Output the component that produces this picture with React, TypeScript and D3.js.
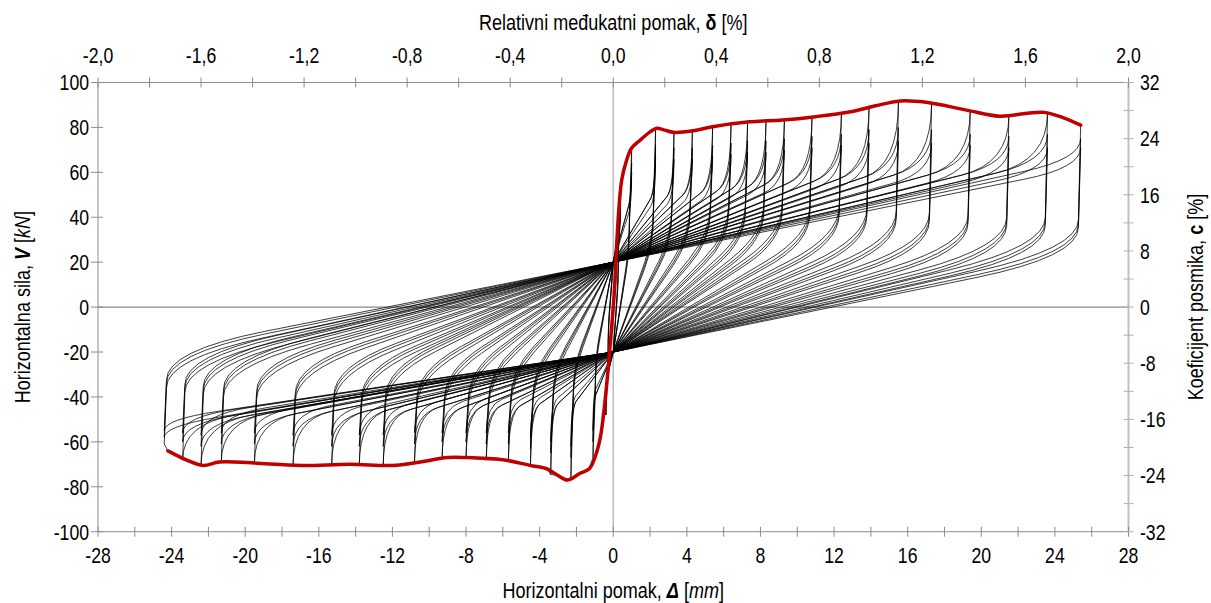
import React from "react";
import * as d3 from "d3";

// ---------------- data ----------------
const bottomTickLabels = [-28, -24, -20, -16, -12, -8, -4, 0, 4, 8, 12, 16, 20, 24, 28];
const leftTickLabels = [-100, -80, -60, -40, -20, 0, 20, 40, 60, 80, 100];
const rightTickLabels = [-32, -24, -16, -8, 0, 8, 16, 24, 32];
const topTickValues = [-2.0, -1.6, -1.2, -0.8, -0.4, 0.0, 0.4, 0.8, 1.2, 1.6, 2.0];
const topTickLabels = ["-2,0", "-1,6", "-1,2", "-0,8", "-0,4", "0,0", "0,4", "0,8", "1,2", "1,6", "2,0"];

// envelope (red)
const envPosD = [0, 0.1, 0.2, 0.46, 0.73, 1.0, 1.47, 2.0, 2.36, 2.8, 3.26, 4.35, 5.4, 7.4, 9.2, 11, 12.9, 14.2, 15.6, 17, 19.2, 21, 22.5, 23.4, 24.4, 25.4];
const envPosF = [0, 12, 30, 56.6, 65.5, 70.8, 74.4, 78, 79.6, 78.8, 77.8, 78.5, 80.3, 82.5, 83.3, 84.8, 87, 89.5, 91.8, 91.2, 87.7, 85, 86.3, 86.7, 84.5, 81];
const envNegD = [0, -0.1, -0.25, -0.45, -0.7, -1.0, -1.3, -1.8, -2.5, -3.0, -3.6, -4.5, -6, -8, -9, -10.5, -12, -14.3, -17, -19.7, -21.4, -22.3, -23.2, -24.2];
const envNegF = [0, -10, -25, -42, -58, -67, -72, -74, -77, -75, -72, -70.5, -68, -67, -67, -69, -70.5, -70, -70.5, -69.3, -69, -70.5, -68, -64];

// hysteresis loops: amplitudes and forces per cycle
const posD = [0.4, 1.0, 2.3, 3.3, 4.3, 5.4, 6.4, 7.3, 8.3, 9.3, 10.8, 12.4, 13.9, 15.5, 17.3, 19.4, 21.5, 23.6, 25.4];
const posPeak1 = [52, 70.8, 79.5, 77.8, 78.5, 80.3, 81.5, 82.4, 82.9, 83.3, 84.5, 86.5, 89.3, 91.8, 91, 87.5, 85.2, 86.6, 81];
const posPeak2 = [46, 64, 72, 71, 71, 72, 73, 74, 74, 75, 76, 77, 79, 80, 79, 77, 76, 77, 75];
const posPeak3 = [42, 60, 67, 66, 66, 67, 68, 69, 69, 70, 71, 72, 73, 74, 73, 72, 71, 71, 71];
const posReach2 = [38, 50, 52, 53, 54, 55, 56, 57, 58, 59, 60, 61, 62, 63, 64, 64, 64, 65, 66];
const posReach3 = [35, 46, 48, 49, 50, 51, 52, 53, 54, 55, 56, 57, 58, 59, 60, 60, 60, 61, 62];
const posCorner = [15, 28, 31, 32, 33, 33, 33, 33, 33, 33, 32, 32, 31, 30, 29, 28, 27, 27, 26];

const negD = [-0.4, -1.1, -2.3, -3.4, -4.5, -5.7, -6.9, -8.0, -9.3, -10.8, -12.5, -13.8, -15.3, -17.4, -19.5, -21.3, -22.4, -23.4, -24.4];
const negPeak1 = [-48, -67, -76, -74.5, -70.5, -68.5, -68, -67, -67.3, -69, -70.5, -70.2, -70, -70.5, -69.3, -69, -70.5, -68, -61];
const negPeak2 = [-43, -60, -67, -65, -63, -61, -61, -60, -60, -61, -62, -62, -62, -62, -61, -61, -62, -60, -58];
const negPeak3 = [-39, -55, -62, -60, -58, -56, -56, -56, -56, -56, -57, -57, -57, -57, -56, -56, -57, -56, -55];
const negReach2 = [-33, -42, -45, -46, -46, -47, -47, -47, -48, -48, -49, -49, -50, -50, -51, -51, -52, -52, -53];
const negReach3 = [-30, -39, -42, -43, -43, -44, -44, -44, -45, -45, -46, -46, -47, -47, -48, -48, -48, -49, -50];
const negCorner = [-12, -26, -30, -31, -32, -32, -32, -32, -32, -32, -31, -31, -30, -29, -28, -27, -26, -25, -23];

const pinchF = [20, -20]; // common crossing points at zero displacement
const cornerShiftPos = [0, -2, -3.5];
const cornerShiftNeg = [0, 2, 3.5];

// ---------------- layout ----------------
const W = 1211;
const H = 603;
const X0 = 98;
const X1 = 1128.5;
const Y0 = 82.5;
const Y1 = 531.7;
const FONT = "'Liberation Sans', Arial, sans-serif";
const NARROW = 0.82;
const TICK_SIZE = 21.5;
const TITLE_SIZE = 22;

const x = d3.scaleLinear().domain([-28, 28]).range([X0, X1]);
const y = d3.scaleLinear().domain([-100, 100]).range([Y1, Y0]);
const xTop = d3.scaleLinear().domain([-2, 2]).range([X0, X1]);
const yRight = d3.scaleLinear().domain([-32, 32]).range([Y1, Y0]);

function reloadBend(p: d3.Path, d: number, reach: number, peak: number, f0: number) {
  const s = Math.sign(d);
  const bw = Math.max(0.15, 0.12 * Math.abs(d)) * s;
  const xs = d - bw;
  const fs = f0 + (reach - f0) * (xs / d);
  p.lineTo(x(xs), y(fs));
  p.quadraticCurveTo(x(d), y(reach), x(d), y(peak));
}

function unloadBend(p: d3.Path, d: number, corner: number, f1: number) {
  const s = Math.sign(d);
  const xd = d - 0.12 * s;
  p.lineTo(x(xd), y(corner + 13 * s));
  const xe = xd * 0.78;
  const fe = f1 + (corner - f1) * (xe / xd);
  p.quadraticCurveTo(x(xd), y(corner), x(xe), y(fe));
  p.lineTo(x(0), y(f1));
}

function loopPath(k: number, c: number): string {
  const p = d3.path();
  const [pUp, pDn] = pinchF;
  const posPeaks = [posPeak1, posPeak2, posPeak3];
  const negPeaks = [negPeak1, negPeak2, negPeak3];
  const posReach = [posReach2, posReach2, posReach3];
  const negReach = [negReach2, negReach2, negReach3];
  p.moveTo(x(0), y(pUp));
  if (c === 0 && k > 0) {
    const dPrev = posD[k - 1];
    reloadBend(p, dPrev, posReach2[k - 1], posPeak1[k - 1], pUp);
    envPosD.forEach((d, i) => {
      if (d > dPrev && d < posD[k]) p.lineTo(x(d), y(envPosF[i]));
    });
    p.lineTo(x(posD[k]), y(posPeak1[k]));
  } else {
    reloadBend(p, posD[k], posReach[c][k], posPeaks[c][k], pUp);
  }
  unloadBend(p, posD[k], posCorner[k] + cornerShiftPos[c], pDn);
  if (c === 0 && k > 0) {
    const dPrev = negD[k - 1];
    reloadBend(p, dPrev, negReach2[k - 1], negPeak1[k - 1], pDn);
    envNegD.forEach((d, i) => {
      if (d < dPrev && d > negD[k]) p.lineTo(x(d), y(envNegF[i]));
    });
    p.lineTo(x(negD[k]), y(negPeak1[k]));
  } else {
    reloadBend(p, negD[k], negReach[c][k], negPeaks[c][k], pDn);
  }
  unloadBend(p, negD[k], negCorner[k] + cornerShiftNeg[c], pUp);
  return p.toString();
}

function NText(props: {
  x: number;
  y: number;
  anchor?: "start" | "middle" | "end";
  size: number;
  rotate?: number;
  children: React.ReactNode;
}) {
  const { x: tx, y: ty, anchor = "start", size, rotate = 0, children } = props;
  return (
    <g transform={`translate(${tx},${ty}) rotate(${rotate}) scale(${NARROW},1)`}>
      <text x={0} y={0} textAnchor={anchor} fontSize={size} fill="#000">
        {children}
      </text>
    </g>
  );
}

export default function App() {
  const loops: { key: string; d: string }[] = [];
  posD.forEach((_, k) => {
    [0, 1, 2].forEach((c) => loops.push({ key: `${k}-${c}`, d: loopPath(k, c) }));
  });

  const envD = [...envNegD.slice().reverse(), ...envPosD.slice(1)];
  const envF = [...envNegF.slice().reverse(), ...envPosF.slice(1)];
  const envLine = d3
    .line<number>()
    .x((d) => x(d))
    .y((_, i) => y(envF[i]))
    .curve(d3.curveCatmullRom.alpha(0.5));

  const bottomMinor = d3.range(-28, 28.01, 2);
  const topMinor = d3.range(-2, 2.001, 0.2);
  const rightMinor = d3.range(-32, 32.01, 4);

  const axisColor = "#8c8c8c";

  return (
    <svg width={W} height={H} style={{ display: "block", position: "absolute", left: 0, top: 0 }} fontFamily={FONT}>
      <rect width={W} height={H} fill="#fff" />
      <line x1={X0} x2={X1} y1={y(0)} y2={y(0)} stroke="#6e6e6e" strokeWidth={1} />
      <line x1={x(0)} x2={x(0)} y1={Y0} y2={Y1} stroke="#bcbcbc" strokeWidth={1.5} />

      <g fill="none" stroke="#000" strokeWidth={0.9} strokeOpacity={0.85} strokeLinejoin="round">
        {loops.map((l) => (
          <path key={l.key} d={l.d} />
        ))}
      </g>
      <path d={envLine(envD) || ""} fill="none" stroke="#c00000" strokeWidth={3.5} strokeLinejoin="round" strokeLinecap="round" />

      <line x1={X0} x2={X1} y1={Y0} y2={Y0} stroke={axisColor} />
      <line x1={X0} x2={X1} y1={Y1} y2={Y1} stroke={axisColor} />
      <line x1={X0} x2={X0} y1={Y0} y2={Y1} stroke={axisColor} />
      <line x1={X1} x2={X1} y1={Y0} y2={Y1} stroke="#c0c0c0" strokeWidth={2} />

      {bottomMinor.map((v) => (
        <line key={"bm" + v} x1={x(v)} x2={x(v)} y1={Y1 - 5} y2={Y1 + 5} stroke={axisColor} />
      ))}
      {topMinor.map((v, i) => (
        <line key={"tm" + i} x1={xTop(v)} x2={xTop(v)} y1={Y0 - 5} y2={Y0 + 5} stroke={axisColor} />
      ))}
      {leftTickLabels.map((v) => (
        <line key={"lm" + v} x1={X0 - 7} x2={X0 + 5} y1={y(v)} y2={y(v)} stroke={axisColor} />
      ))}
      {rightMinor.map((v) => (
        <line key={"rm" + v} x1={X1 - 5} x2={X1 + 5} y1={yRight(v)} y2={yRight(v)} stroke="#b0b0b0" />
      ))}

      {bottomTickLabels.map((v) => (
        <NText key={"bl" + v} x={x(v)} y={563} anchor="middle" size={TICK_SIZE}>
          {v}
        </NText>
      ))}
      {topTickValues.map((v, i) => (
        <NText key={"tl" + i} x={xTop(v)} y={63} anchor="middle" size={TICK_SIZE}>
          {topTickLabels[i]}
        </NText>
      ))}
      {leftTickLabels.map((v) => (
        <NText key={"ll" + v} x={89} y={y(v) + 7.8} anchor="end" size={TICK_SIZE}>
          {v}
        </NText>
      ))}
      {rightTickLabels.map((v) => (
        <NText key={"rl" + v} x={1140} y={yRight(v) + 7.8} anchor="start" size={TICK_SIZE}>
          {v}
        </NText>
      ))}

      <NText x={x(0)} y={30} anchor="middle" size={TITLE_SIZE}>
        Relativni međukatni pomak, <tspan fontWeight="bold">δ</tspan> [%]
      </NText>
      <NText x={x(0)} y={598} anchor="middle" size={TITLE_SIZE}>
        Horizontalni pomak, <tspan fontWeight="bold" fontStyle="italic">Δ</tspan> [<tspan fontStyle="italic">mm</tspan>]
      </NText>
      <NText x={30} y={y(0)} anchor="middle" size={TITLE_SIZE} rotate={-90}>
        Horizontalna sila, <tspan fontWeight="bold" fontStyle="italic">V</tspan> [<tspan fontStyle="italic">kN</tspan>]
      </NText>
      <NText x={1203} y={297} anchor="middle" size={TITLE_SIZE} rotate={-90}>
        Koeficijent posmika, <tspan fontWeight="bold">c</tspan> [%]
      </NText>
    </svg>
  );
}
